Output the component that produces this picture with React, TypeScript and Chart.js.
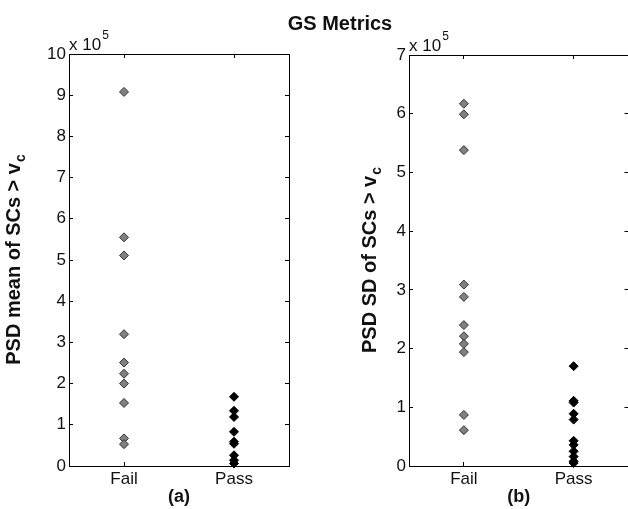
import React, { useEffect, useRef } from 'react';
import { Chart, registerables } from 'chart.js';

Chart.register(...registerables);

// ---- data (values in units of 10^5) ----
const categories = ['Fail', 'Pass'];
const panelLabels = ['(a)', '(b)'];
const mainTitle = 'GS Metrics';
const yTitles = ['PSD mean of SCs > v', 'PSD SD of SCs > v'];
const yTitleSub = 'c';
const exponentBase = 'x 10';
const exponent = '5';
const yMaxes = [10, 7];

const failMean = [9.08, 5.55, 5.11, 3.2, 2.51, 2.24, 2.0, 1.53, 0.67, 0.53];
const passMean = [1.68, 1.34, 1.19, 0.83, 0.59, 0.54, 0.26, 0.14, 0.06];
const failSD = [6.17, 5.99, 5.38, 3.09, 2.88, 2.4, 2.21, 2.08, 1.94, 0.87, 0.61];
const passSD = [1.7, 1.11, 1.08, 0.89, 0.79, 0.43, 0.36, 0.25, 0.16, 0.08, 0.05];

const FONT = '"Liberation Sans", Arial, Helvetica, sans-serif';

function align(p: number) {
  return Math.round(p - 0.5) + 0.5;
}

const decorPlugin = {
  id: 'decor',
  afterDraw(chart: any, _args: any, opts: any) {
    const { ctx, chartArea: a, scales } = chart;
    const xs = scales.x;
    const ys = scales.y;
    ctx.save();
    ctx.strokeStyle = '#000';
    ctx.lineWidth = 1;
    ctx.beginPath();
    const top = align(a.top);
    const right = align(a.right);
    ctx.moveTo(a.left, top);
    ctx.lineTo(a.right, top);
    ctx.moveTo(right, a.top);
    ctx.lineTo(right, a.bottom);
    const tl = 4;
    ys.ticks.forEach((t: any) => {
      const py = align(ys.getPixelForValue(t.value));
      ctx.moveTo(a.left, py);
      ctx.lineTo(a.left + tl, py);
      ctx.moveTo(a.right - tl, py);
      ctx.lineTo(a.right, py);
    });
    xs.ticks.forEach((t: any) => {
      const px = align(xs.getPixelForValue(t.value));
      ctx.moveTo(px, a.bottom);
      ctx.lineTo(px, a.bottom - tl);
      ctx.moveTo(px, a.top);
      ctx.lineTo(px, a.top + tl);
    });
    ctx.stroke();

    // exponent label
    ctx.fillStyle = '#111';
    ctx.textAlign = 'left';
    ctx.textBaseline = 'alphabetic';
    ctx.font = `17px ${FONT}`;
    ctx.fillText(exponentBase, a.left, a.top - 4);
    const wb = ctx.measureText(exponentBase).width;
    ctx.font = `12px ${FONT}`;
    ctx.fillText(exponent, a.left + wb + 1, a.top - 15);

    // y title with subscript
    ctx.translate(opts.titleX, (a.top + a.bottom) / 2);
    ctx.rotate(-Math.PI / 2);
    ctx.font = `bold 20px ${FONT}`;
    const w1 = ctx.measureText(opts.title).width;
    ctx.font = `bold 14px ${FONT}`;
    const w2 = ctx.measureText(yTitleSub).width;
    const start = -(w1 + w2) / 2;
    ctx.font = `bold 20px ${FONT}`;
    ctx.fillText(opts.title, start, 0);
    ctx.font = `bold 14px ${FONT}`;
    ctx.fillText(yTitleSub, start + w1 + 1, 5);
    ctx.restore();
  },
};

function buildConfig(idx: number, fail: number[], pass: number[], yWidth: number, pad: any, titleX: number): any {
  const xHeight = 43;
  return {
    type: 'scatter',
    data: {
      datasets: [
        {
          label: categories[0],
          data: fail.map((v) => ({ x: 1, y: v })),
          pointStyle: 'rectRot',
          pointRadius: 4.5,
          backgroundColor: '#808080',
          borderColor: '#333',
          borderWidth: 1,
          clip: false,
        },
        {
          label: categories[1],
          data: pass.map((v) => ({ x: 2, y: v })),
          pointStyle: 'rectRot',
          pointRadius: 4.5,
          backgroundColor: '#000',
          borderColor: '#000',
          borderWidth: 1,
          clip: false,
        },
      ],
    },
    options: {
      responsive: false,
      animation: false,
      events: [],
      layout: { padding: pad },
      plugins: {
        legend: { display: false },
        tooltip: { enabled: false },
        title: { display: false },
        decor: { title: yTitles[idx], titleX },
      },
      scales: {
        x: {
          type: 'linear',
          position: 'bottom',
          min: 0.5,
          max: 2.5,
          afterBuildTicks: (s: any) => {
            s.ticks = [{ value: 1 }, { value: 2 }];
          },
          afterFit: (s: any) => {
            s.height = xHeight;
          },
          grid: { display: false, drawTicks: false },
          border: { display: true, color: '#000', width: 1 },
          ticks: {
            padding: 3,
            color: '#111',
            font: { family: FONT, size: 17 },
            autoSkip: false,
            maxRotation: 0,
            callback: (v: number) => categories[Math.round(v) - 1] ?? '',
          },
          title: {
            display: true,
            text: panelLabels[idx],
            color: '#111',
            font: { family: FONT, size: 18, weight: 'bold' },
            padding: { top: 0, bottom: 1 },
          },
        },
        y: {
          type: 'linear',
          position: 'left',
          min: 0,
          max: yMaxes[idx],
          afterFit: (s: any) => {
            s.width = yWidth;
          },
          grid: { display: false, drawTicks: false },
          border: { display: true, color: '#000', width: 1 },
          ticks: {
            stepSize: 1,
            padding: 3,
            color: '#111',
            font: { family: FONT, size: 17 },
            callback: (v: number) => String(v),
          },
        },
      },
    },
    plugins: [decorPlugin],
  };
}

function Panel({ idx, fail, pass, left, width, yWidth, pad, titleX }: any) {
  const ref = useRef<HTMLCanvasElement | null>(null);
  useEffect(() => {
    if (!ref.current) return;
    const chart = new Chart(ref.current, buildConfig(idx, fail, pass, yWidth, pad, titleX));
    return () => chart.destroy();
  }, []);
  return (
    <canvas
      ref={ref}
      width={width}
      height={509}
      style={{ position: 'absolute', left, top: 0, width, height: 509 }}
    />
  );
}

export default function App() {
  return (
    <div
      style={{
        position: 'fixed',
        left: 0,
        top: 0,
        width: 628,
        height: 509,
        overflow: 'hidden',
        background: '#fff',
      }}
    >
      <Panel idx={0} fail={failMean} pass={passMean} left={0} width={314} yWidth={69}
        pad={{ top: 54, right: 25, left: 0, bottom: 0 }} titleX={19.5} />
      <Panel idx={1} fail={failSD} pass={passSD} left={314} width={320} yWidth={95}
        pad={{ top: 55, right: 5, left: 0, bottom: 0 }} titleX={62} />
      <div
        style={{
          position: 'absolute',
          left: 340,
          top: 13,
          transform: 'translateX(-50%)',
          font: `bold 20px ${FONT}`,
          lineHeight: '20px',
          color: '#111',
          whiteSpace: 'nowrap',
        }}
      >
        {mainTitle}
      </div>
    </div>
  );
}
